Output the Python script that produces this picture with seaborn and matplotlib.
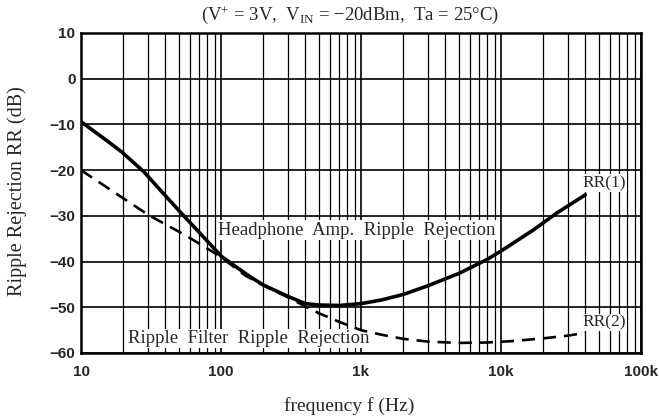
import matplotlib
matplotlib.use('Agg')
import matplotlib.pyplot as plt
import pandas as pd
import numpy as np
import seaborn as sns

# values
freq_rr1 = [10, 15.7, 19.5, 28, 37.7, 52, 72.8, 101, 161, 200, 300, 400, 500, 700,
            1000, 1400, 2000, 3000, 5000, 8000, 10000, 17000, 25000, 40000]
rr1 = [-9.4, -13.8, -16, -20.3, -24.7, -29.4, -34.2, -38.9, -43.3, -45.1, -47.6,
       -49.2, -49.5, -49.6, -49.2, -48.4, -47.2, -45.3, -42.6, -39.5, -37.7,
       -33.1, -29.4, -25.4]
freq_rr2 = [10, 15.7, 21.8, 30.3, 55.3, 95.5, 150, 200, 300, 400, 500, 600, 700,
            1000, 1400, 2000, 3000, 5000, 8000, 12000, 20000, 30000, 40000]
rr2 = [-20, -24, -26.9, -29.8, -34.2, -38.6, -43.1, -45.2, -47.8, -49.8, -51.3,
       -52.3, -53.2, -55, -56, -56.9, -57.5, -57.8, -57.7, -57.4, -56.8, -56.2,
       -55.6]

xticks = [10, 100, 1000, 10000, 100000]
xtick_labels = ['10', '100', '1k', '10k', '100k']
yticks = [10, 0, -10, -20, -30, -40, -50, -60]

df1 = pd.DataFrame({'f': freq_rr1, 'rr': rr1})
df2 = pd.DataFrame({'f': freq_rr2, 'rr': rr2})

sns.set_style('white')
plt.rcParams['font.family'] = ['Liberation Serif', 'DejaVu Serif']
plt.rcParams['mathtext.fontset'] = 'custom'
plt.rcParams['mathtext.rm'] = 'Liberation Serif'
plt.rcParams['mathtext.it'] = 'Liberation Serif:italic'
plt.rcParams['mathtext.bf'] = 'Liberation Serif:bold'

fig = plt.figure(figsize=(6.59, 4.19), dpi=100)
ax = fig.add_axes([81 / 659, 1 - 353 / 419, 560 / 659, 320 / 419])

ax.set_xscale('log')
ax.set_xlim(10, 100000)
ax.set_ylim(-60, 10)

# grid: decades and 10 dB lines heavier, in-between decade lines thinner
for dec in [10, 100, 1000, 10000]:
    for m in range(2, 10):
        ax.axvline(dec * m, color='black', lw=0.9, zorder=1)
for v in xticks:
    ax.axvline(v, color='black', lw=1.2, zorder=1)
for v in yticks:
    ax.axhline(v, color='black', lw=1.2, zorder=1)

sns.lineplot(data=df2, x='f', y='rr', ax=ax, color='black', lw=1.9,
             linestyle=(0, (5, 3)), zorder=3)
sns.lineplot(data=df1, x='f', y='rr', ax=ax, color='black', lw=2.6, zorder=4)

box = dict(facecolor='white', edgecolor='none', pad=0.8)
ax.text(935, -33.1, 'Headphone  Amp.  Ripple  Rejection', ha='center', va='center',
        fontsize=13.5, bbox=box, zorder=5)
ax.text(158, -56.9, 'Ripple  Filter  Ripple  Rejection', ha='center', va='center',
        fontsize=13.5, bbox=box, zorder=2)
ax.text(54500, -22.8, 'RR(1)', ha='center', va='center', fontsize=12.5,
        bbox=dict(facecolor='white', edgecolor='none', pad=0.5), zorder=5)
ax.text(54500, -53.3, 'RR(2)', ha='center', va='center', fontsize=12.5,
        bbox=dict(facecolor='white', edgecolor='none', pad=0.5), zorder=5)

ax.set_xticks(xticks)
ax.set_xticklabels(xtick_labels)
ax.minorticks_off()
ax.set_yticks(yticks)
ax.set_yticklabels([str(v).replace('-', '\u2212') for v in yticks])
for lab in ax.get_xticklabels() + ax.get_yticklabels():
    lab.set_fontweight('bold')
    lab.set_fontfamily(['Liberation Sans Narrow', 'Liberation Sans'])
    lab.set_fontsize(11)
ax.tick_params(axis='y', length=0, pad=4)
ax.tick_params(axis='x', length=0, pad=9)

for s in ax.spines.values():
    s.set_color('black')
    s.set_linewidth(1.8)

ax.set_xlabel('frequency f (Hz)', fontsize=14)
ax.xaxis.set_label_coords((349 - 81) / 560, (353 - 406) / 320)
ax.xaxis.label.set_va('center')
ax.set_ylabel('Ripple Rejection RR (dB)', fontsize=14.5)
ax.yaxis.set_label_coords((17 - 81) / 560, (353 - 191) / 320)
ax.yaxis.label.set_va('center')

fig.text(350 / 659, 1 - 15 / 419,
         '(V$^{+}$ = 3V,  V$_{\\mathrm{IN}}$ = \u221220dBm,  Ta = 25\u00b0C)',
         ha='center', va='center', fontsize=13.5)

fig.savefig('out.png', dpi=100)
